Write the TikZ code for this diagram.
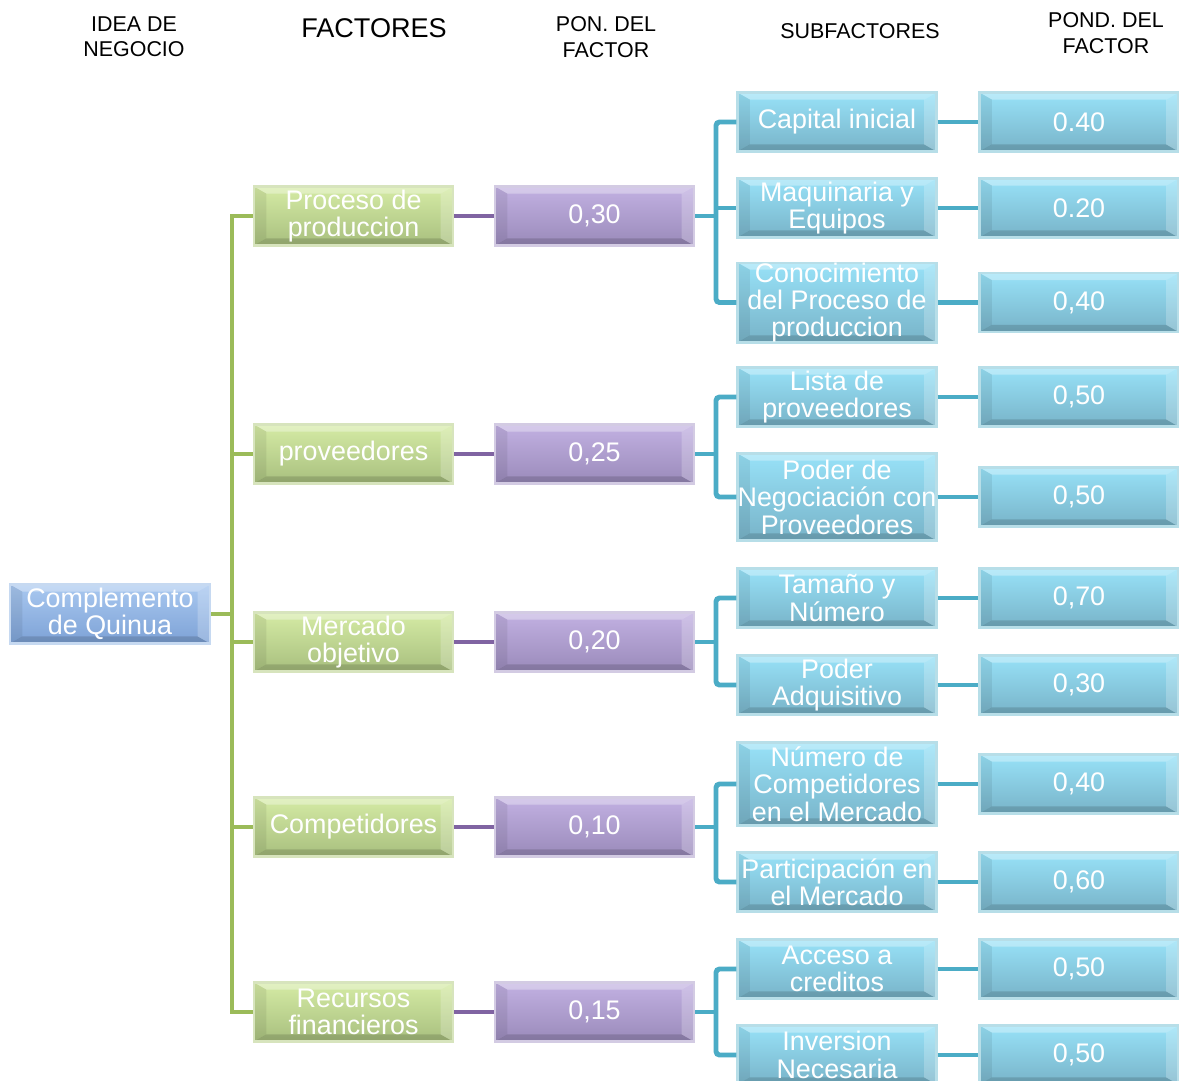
\documentclass[tikz,border=0pt]{standalone}
\usepackage{fontspec}
\setmainfont{Liberation Sans}
\usetikzlibrary{calc}

\definecolor{rootTop}{HTML}{A9C8F0}
\definecolor{rootBot}{HTML}{7DA2D6}
\definecolor{rootBorder}{HTML}{C6D9F1}
\definecolor{grnTop}{HTML}{D5EBA5}
\definecolor{grnBot}{HTML}{A8BF7E}
\definecolor{grnBorder}{HTML}{D7E4BD}
\definecolor{purTop}{HTML}{C2B1E2}
\definecolor{purBot}{HTML}{9A8ABA}
\definecolor{purBorder}{HTML}{D3CBE3}
\definecolor{aquTop}{HTML}{98E2F8}
\definecolor{aquBot}{HTML}{78B3C8}
\definecolor{aquBorder}{HTML}{B7DEE8}
\definecolor{grnLine}{HTML}{9BBB59}
\definecolor{purLine}{HTML}{8064A2}
\definecolor{aquLine}{HTML}{4BACC6}

\newcommand{\bevx}{7pt}
\newcommand{\bevy}{4pt}

\tikzset{
  bevel/.style={
    line width=1.2pt, inner sep=0pt, align=center, text=white,
    font=\fontsize{15.3}{15.6}\selectfont,
    minimum width=3.98cm, minimum height=1.18cm,
    path picture={
      \path (path picture bounding box.north west) coordinate (q1)
            (path picture bounding box.north east) coordinate (q2)
            (path picture bounding box.south east) coordinate (q3)
            (path picture bounding box.south west) coordinate (q4);
      % light top facet
      \fill[white,opacity=.32] (q1) -- (q2) -- ([shift={(-\bevx,-\bevy)}]q2)
        -- ([shift={(\bevx,-\bevy)}]q1) -- cycle;
      % light right facet
      \fill[white,opacity=.22] (q2) -- (q3) -- ([shift={(-\bevx,\bevy)}]q3)
        -- ([shift={(-\bevx,-\bevy)}]q2) -- cycle;
      % dark bottom facet
      \fill[black,opacity=.14] (q3) -- (q4) -- ([shift={(\bevx,\bevy)}]q4)
        -- ([shift={(-\bevx,\bevy)}]q3) -- cycle;
      % dark left facet
      \fill[black,opacity=.07] (q4) -- (q1) -- ([shift={(\bevx,-\bevy)}]q1)
        -- ([shift={(\bevx,\bevy)}]q4) -- cycle;
    }},
  ht/.style={minimum height=#1*0.02cm},
  rootbox/.style={bevel, draw=rootBorder, top color=rootTop, bottom color=rootBot},
  factbox/.style={bevel, draw=grnBorder, top color=grnTop, bottom color=grnBot},
  ponbox/.style={bevel, draw=purBorder, top color=purTop, bottom color=purBot},
  subbox/.style={bevel, draw=aquBorder, top color=aquTop, bottom color=aquBot},
  header/.style={align=center, font=\fontsize{12.2}{14.4}\selectfont, inner sep=0pt},
  gline/.style={draw=grnLine, line width=2.8pt},
  pline/.style={draw=purLine, line width=2.8pt},
  aline/.style={draw=aquLine, line width=2.8pt, rounded corners=2pt},
}

\begin{document}
\begin{tikzpicture}[x=0.02cm, y=-0.02cm]
\useasboundingbox (0,0) rectangle (1179,1080);
\fill[white] (0,0) rectangle (1179,1080);

% column headings
\node[header] (hIdea) at (134,37) {IDEA DE\\NEGOCIO};
\node[header, font=\fontsize{15.4}{16}\selectfont] (hFact) at (374,28) {FACTORES};
\node[header] (hPon) at (606,37) {PON. DEL\\FACTOR};
\node[header] (hSub) at (860,31) {SUBFACTORES};
\node[header] (hPond) at (1106,33) {POND. DEL\\FACTOR};

% business idea
\node[rootbox, minimum width=4cm] (root) at (110,614) {Complemento\\de Quinua};

% factors and their weights
\node[factbox] (f1) at (353.5,216) {Proceso de\\produccion};
\node[factbox] (f2) at (353.5,454) {proveedores};
\node[factbox] (f3) at (353.5,642) {Mercado\\objetivo};
\node[factbox] (f4) at (353.5,827) {Competidores};
\node[factbox] (f5) at (353.5,1012) {Recursos\\financieros};

\node[ponbox] (p1) at (594.5,216) {0,30};
\node[ponbox] (p2) at (594.5,454) {0,25};
\node[ponbox] (p3) at (594.5,642) {0,20};
\node[ponbox] (p4) at (594.5,827) {0,10};
\node[ponbox] (p5) at (594.5,1012) {0,15};

% subfactors
\node[subbox] (s1) at (837,122) {Capital inicial};
\node[subbox] (s2) at (837,208) {Maquinaria y\\Equipos};
\node[subbox, ht=76] (s3) at (837,302.5) {Conocimiento\\del Proceso de\\produccion};
\node[subbox] (s4) at (837,397) {Lista de\\proveedores};
\node[subbox, ht=87] (s5) at (837,497) {Poder de\\Negociación con\\Proveedores};
\node[subbox] (s6) at (837,598) {Tamaño y\\Número};
\node[subbox] (s7) at (837,685) {Poder\\Adquisitivo};
\node[subbox, ht=83] (s8) at (837,784) {Número de\\Competidores\\en el Mercado};
\node[subbox] (s9) at (837,882) {Participación en\\el Mercado};
\node[subbox] (s10) at (837,969) {Acceso a\\creditos};
\node[subbox] (s11) at (837,1055) {Inversion\\Necesaria};

% subfactor weights
\node[subbox] (w1) at (1079,122) {0.40};
\node[subbox] (w2) at (1079,208) {0.20};
\node[subbox] (w3) at (1079,302.5) {0,40};
\node[subbox] (w4) at (1079,397) {0,50};
\node[subbox] (w5) at (1079,497) {0,50};
\node[subbox] (w6) at (1079,598) {0,70};
\node[subbox] (w7) at (1079,685) {0,30};
\node[subbox] (w8) at (1079,784) {0,40};
\node[subbox] (w9) at (1079,882) {0,60};
\node[subbox] (w10) at (1079,969) {0,50};
\node[subbox] (w11) at (1079,1055) {0,50};

% bus lines
\coordinate (gb) at (232,0);
\coordinate (ab) at (716,0);

% idea -> factors
\draw[gline] (f1.west) -- (f1.west -| gb) -- (f5.west -| gb) -- (f5.west);
\draw[gline] (root.east) -- (root.east -| gb);
\foreach \i in {2,3,4} \draw[gline] (f\i.west -| gb) -- (f\i.west);

% factors -> weights
\foreach \i in {1,...,5} \draw[pline] (f\i.east) -- (p\i.west);

% weights -> subfactors
\foreach \p/\a/\b in {1/1/3, 2/4/5, 3/6/7, 4/8/9, 5/10/11} {
  \draw[aline] (s\a.west) -- (s\a.west -| ab) -- (s\b.west -| ab) -- (s\b.west);
  \draw[aline] (p\p.east) -- (p\p.east -| ab);
}
\draw[aline] (s2.west -| ab) -- (s2.west);

% subfactors -> subfactor weights
\foreach \i in {1,...,11} \draw[aline] (s\i.east) -- (w\i.west);
\end{tikzpicture}
\end{document}
